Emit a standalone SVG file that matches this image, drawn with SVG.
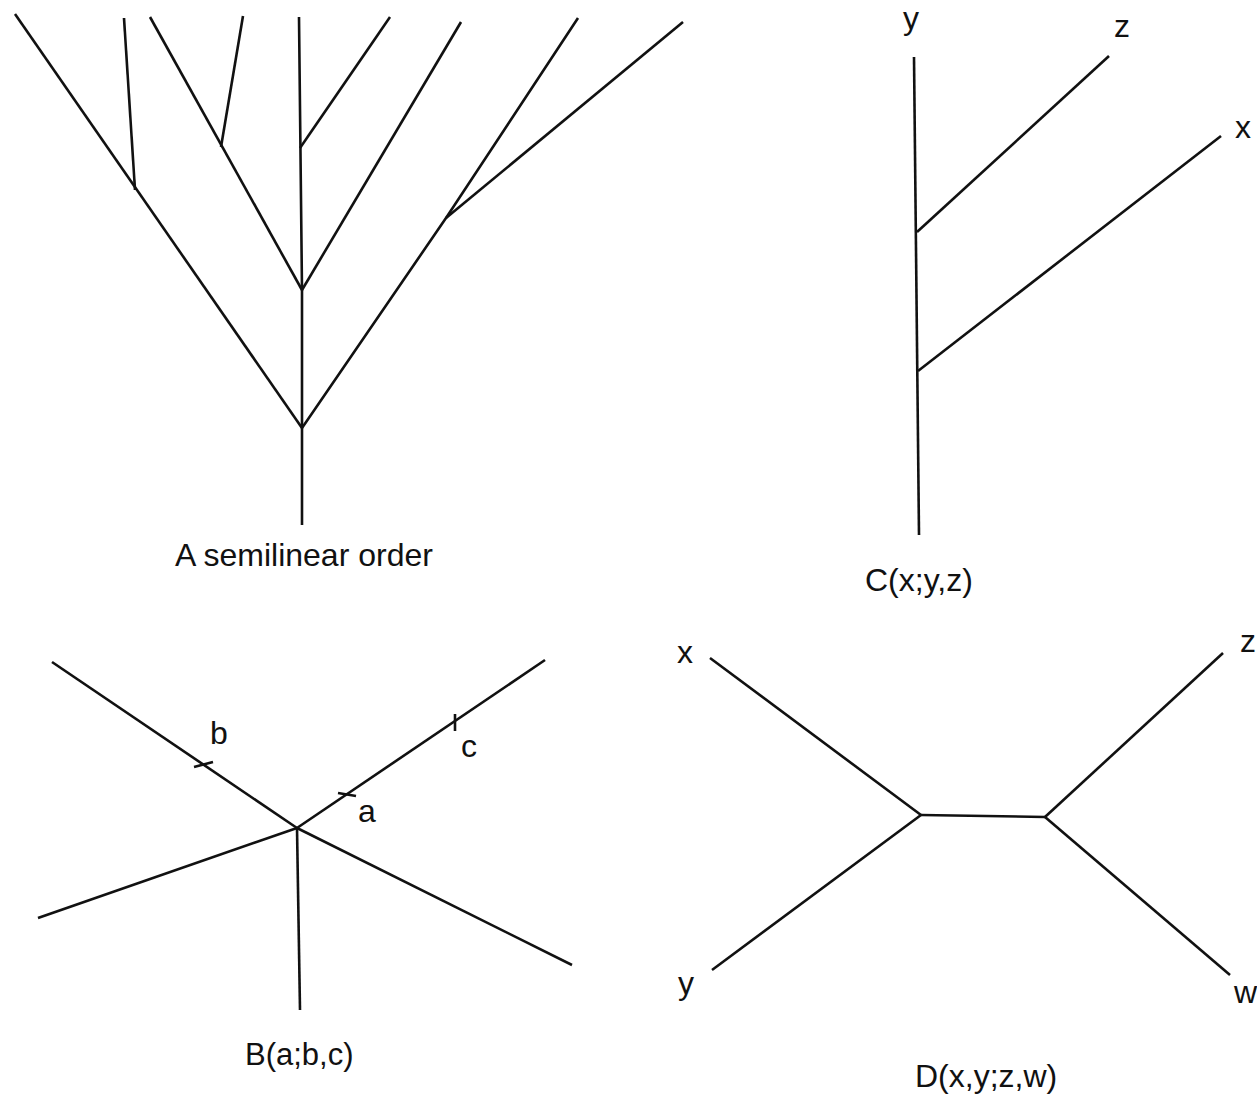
<svg xmlns="http://www.w3.org/2000/svg" width="1257" height="1105" viewBox="0 0 1257 1105">
<style>
.e{stroke:#111;stroke-width:2.6;fill:none;stroke-linecap:butt}
.t{font-family:"Liberation Sans",Arial,sans-serif;font-size:32px;fill:#111}
</style>
<rect width="1257" height="1105" fill="#fff"/>
<g id="connectors">
  <g id="treeA">
    <line class="e" x1="15" y1="14" x2="302" y2="428"/>
    <line class="e" x1="124" y1="18" x2="135" y2="190"/>
    <line class="e" x1="150" y1="17" x2="302" y2="290"/>
    <line class="e" x1="243" y1="16" x2="221" y2="147"/>
    <polyline class="e" points="299,17 302,290 302,428 302,525"/>
    <line class="e" x1="300" y1="148" x2="390" y2="17"/>
    <line class="e" x1="302" y1="290" x2="461" y2="22"/>
    <polyline class="e" points="302,428 446,218 578,18"/>
    <line class="e" x1="446" y1="218" x2="683" y2="22"/>
  </g>
  <g id="treeC">
    <line class="e" x1="914" y1="57" x2="919" y2="535"/>
    <line class="e" x1="917" y1="232" x2="1109" y2="56"/>
    <line class="e" x1="918" y1="371" x2="1221" y2="136"/>
  </g>
  <g id="treeB">
    <line class="e" x1="52" y1="662" x2="297" y2="828"/>
    <line class="e" x1="297" y1="828" x2="572" y2="965"/>
    <line class="e" x1="297" y1="828" x2="545" y2="660"/>
    <line class="e" x1="297" y1="828" x2="38" y2="918"/>
    <line class="e" x1="297" y1="828" x2="300" y2="1010"/>
    <line class="e" x1="194" y1="767" x2="213" y2="762"/>
    <line class="e" x1="338" y1="793" x2="356" y2="796"/>
    <line class="e" x1="455" y1="714" x2="455" y2="731"/>
  </g>
  <g id="treeD">
    <line class="e" x1="710" y1="658" x2="921" y2="815"/>
    <line class="e" x1="712" y1="970" x2="921" y2="815"/>
    <line class="e" x1="921" y1="815" x2="1045" y2="817"/>
    <line class="e" x1="1045" y1="817" x2="1223" y2="653"/>
    <line class="e" x1="1045" y1="817" x2="1230" y2="975"/>
  </g>
</g>
<g id="labelA"><text class="t" x="175" y="566">A semilinear order</text></g>
<g id="labelC">
  <text class="t" x="911" y="29" text-anchor="middle">y</text>
  <text class="t" x="1122" y="37" text-anchor="middle">z</text>
  <text class="t" x="1243" y="138" text-anchor="middle">x</text>
  <text class="t" x="865" y="591">C(x;y,z)</text>
</g>
<g id="labelB">
  <text class="t" x="219" y="744" text-anchor="middle">b</text>
  <text class="t" x="469" y="757" text-anchor="middle">c</text>
  <text class="t" x="367" y="822" text-anchor="middle">a</text>
  <text class="t" x="245" y="1065" style="font-size:31px">B(a;b,c)</text>
</g>
<g id="labelD">
  <text class="t" x="677" y="663">x</text>
  <text class="t" x="686" y="994" text-anchor="middle">y</text>
  <text class="t" x="1240" y="652">z</text>
  <text class="t" x="1234" y="1003">w</text>
  <text class="t" x="915" y="1087">D(x,y;z,w)</text>
</g>
</svg>
